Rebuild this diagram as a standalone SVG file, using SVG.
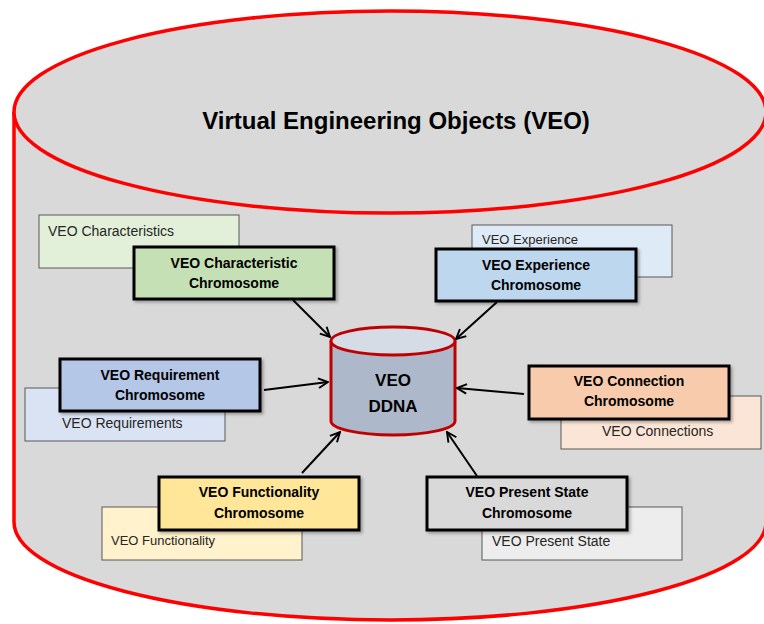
<svg xmlns="http://www.w3.org/2000/svg" width="764" height="624" viewBox="0 0 764 624">
<defs>
<style>
.bg{fill:#ffffff}
.big{fill:#d9d9d9;stroke:#ff0000;stroke-width:3.5}
.back{stroke:#595959;stroke-width:1}
.front{stroke:#000;stroke-width:3}
.t{font-family:"Liberation Sans",Arial,sans-serif;fill:#262626}
.small{font-size:14px}
.bold{font-size:14px;font-weight:bold;fill:#000;text-anchor:middle}
.title{font-size:24px;font-weight:bold;fill:#000;text-anchor:middle}
.conn{stroke:#000;stroke-width:2;fill:none;marker-end:url(#arr)}
.ddna{fill:#adb9ca;stroke:#c00000;stroke-width:3}
</style>
<marker id="arr" viewBox="0 0 10 10" refX="9" refY="5" markerWidth="6" markerHeight="6" orient="auto" markerUnits="strokeWidth">
<path d="M1,1 L9,5 L1,9" fill="none" stroke="#000" stroke-width="1.6"/>
</marker>
<filter id="sh" x="-10%" y="-10%" width="130%" height="140%">
<feDropShadow dx="2" dy="2" stdDeviation="1.5" flood-color="#000" flood-opacity="0.3"/>
</filter>
</defs>
<rect class="bg" x="0" y="0" width="764" height="624"/>
<g id="veo">
<path class="big" d="M14,112 L14,522 A376,98 0 0 0 766,522 L766,112"/>
<ellipse class="big" cx="390" cy="112" rx="376" ry="101"/>
<text class="t title" x="396" y="129">Virtual Engineering Objects (VEO)</text>
</g>
<g id="ddna">
<path class="ddna" d="M331,341 L331,421 A62,14 0 0 0 455,421 L455,341"/>
<ellipse cx="393" cy="341" rx="62" ry="14" fill="#d6dce5" stroke="#c00000" stroke-width="3"/>
<text class="t bold" x="393" y="386" style="font-size:17px">VEO</text>
<text class="t bold" x="393" y="412" style="font-size:17px">DDNA</text>
</g>
<g id="characteristic">
<rect class="back" x="39" y="215" width="200" height="53" fill="#e2efd9"/>
<text class="t small" x="48" y="236">VEO Characteristics</text>
<rect class="front" x="134" y="247" width="200" height="52" fill="#c5e0b4" filter="url(#sh)"/>
<text class="t bold" x="234" y="268">VEO Characteristic</text>
<text class="t bold" x="234" y="288">Chromosome</text>
</g>
<g id="experience">
<rect class="back" x="472" y="225" width="200" height="52" fill="#deebf7"/>
<text class="t small" x="482" y="244" style="font-size:13px">VEO Experience</text>
<rect class="front" x="436" y="249" width="200" height="52" fill="#bdd7ee" filter="url(#sh)"/>
<text class="t bold" x="536" y="270">VEO Experience</text>
<text class="t bold" x="536" y="290">Chromosome</text>
</g>
<g id="requirement">
<rect class="back" x="25" y="388" width="200" height="53" fill="#dae3f3"/>
<text class="t small" x="62" y="428">VEO Requirements</text>
<rect class="front" x="60" y="359" width="200" height="52" fill="#b4c7e7" filter="url(#sh)"/>
<text class="t bold" x="160" y="380">VEO Requirement</text>
<text class="t bold" x="160" y="400">Chromosome</text>
</g>
<g id="connection">
<rect class="back" x="561" y="396" width="200" height="53" fill="#fbe5d6"/>
<text class="t small" x="602" y="436">VEO Connections</text>
<rect class="front" x="529" y="366" width="200" height="53" fill="#f8cbad" filter="url(#sh)"/>
<text class="t bold" x="629" y="386">VEO Connection</text>
<text class="t bold" x="629" y="406">Chromosome</text>
</g>
<g id="functionality">
<rect class="back" x="102" y="507" width="200" height="53" fill="#fff2cc"/>
<text class="t small" x="111" y="545" style="font-size:13px">VEO Functionality</text>
<rect class="front" x="159" y="477" width="200" height="53" fill="#ffe699" filter="url(#sh)"/>
<text class="t bold" x="259" y="497">VEO Functionality</text>
<text class="t bold" x="259" y="518">Chromosome</text>
</g>
<g id="presentstate">
<rect class="back" x="482" y="507" width="200" height="53" fill="#ededed"/>
<text class="t small" x="492" y="546">VEO Present State</text>
<rect class="front" x="427" y="477" width="200" height="53" fill="#d9d9d9" filter="url(#sh)"/>
<text class="t bold" x="527" y="497">VEO Present State</text>
<text class="t bold" x="527" y="518">Chromosome</text>
</g>
<g id="connectors">
<line class="conn" x1="293" y1="300" x2="330" y2="337"/>
<line class="conn" x1="497" y1="302" x2="456" y2="339"/>
<line class="conn" x1="264" y1="390" x2="328" y2="382"/>
<line class="conn" x1="524" y1="394" x2="457" y2="388"/>
<line class="conn" x1="302" y1="473" x2="340" y2="432"/>
<line class="conn" x1="477" y1="476" x2="447" y2="432"/>
</g>
</svg>
